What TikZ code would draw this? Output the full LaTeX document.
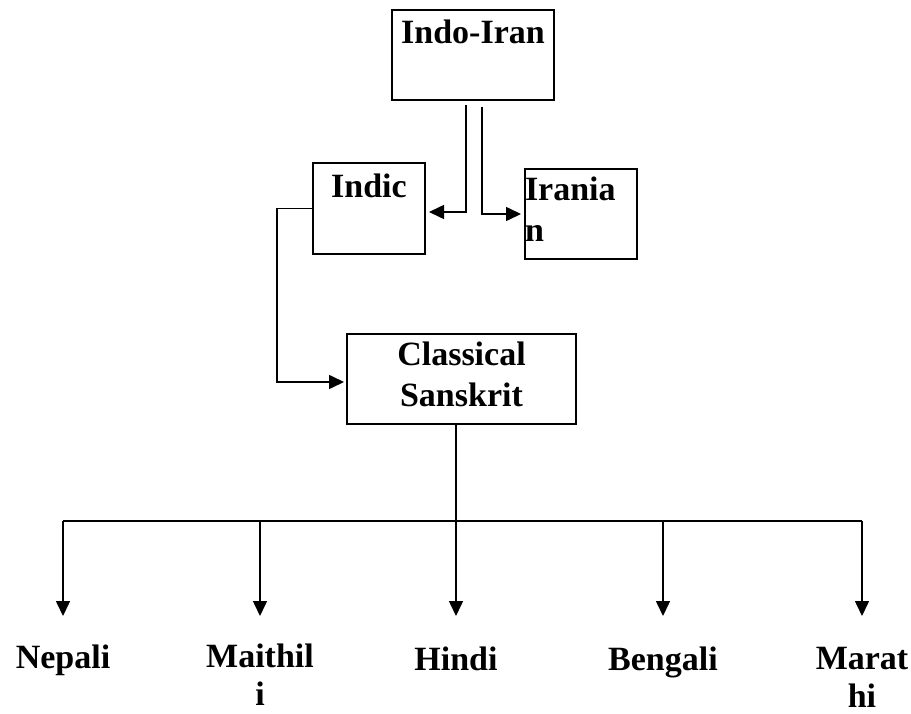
\documentclass[tikz,border=0pt]{standalone}
\usepackage{fontspec}
\setmainfont{Liberation Serif}
\usetikzlibrary{arrows.meta, positioning, calc}

\begin{document}
\begin{tikzpicture}[x=1pt, y=-1pt,
    box/.style={draw, line width=2pt, inner sep=0pt, anchor=north west,
        font=\fontsize{34}{41}\selectfont\bfseries},
    lang/.style={inner sep=0pt, anchor=base, align=center,
        font=\fontsize{34}{38}\selectfont\bfseries},
    link/.style={line width=1.6pt},
    arr/.style={link, -{Triangle[length=15pt, width=14pt]}}]
    \useasboundingbox (0,0) rectangle (911,714);

    % Boxes
    \node[box, text width=162pt, align=center, text height=34pt, text depth=56pt]
        (indoiran) at (391,9) {Indo-Iran};
    \node[box, text width=112pt, align=center, text height=35pt, text depth=56pt]
        (indic) at (312,162) {Indic};
    \node[box, text width=112pt, align=left, text height=32pt, text depth=58pt]
        (iranian) at (524,168) {Irania\\n};
    \node[box, text width=229pt, align=center, text height=32pt, text depth=58pt]
        (classical) at (346,333) {Classical\\Sanskrit};

    % Languages (base = last line)
    \node[lang] (nepali) at (63,668) {Nepali};
    \node[lang] (maithili) at (260,705) {Maithil\\i};
    \node[lang] (hindi) at (456,670) {Hindi};
    \node[lang] (bengali) at (663,670) {Bengali};
    \node[lang] (marathi) at (862,707) {Marat\\hi};

    % Upper links
    \draw[arr] ($(indoiran.south west)+(75,4)$) |- ($(indic.east)+(3,3.5)$);
    \draw[arr] ($(indoiran.south west)+(91,6)$) |- ($(iranian.west)+(-3,0)$);
    \draw[arr] (indic.west) -- ++(-35,0) |- ($(classical.west)+(-2,3)$);

    % Branches
    \coordinate (bar) at (456,521);
    \coordinate (tips) at (456,616);
    \draw[link] (classical.south -| bar) -- (bar);
    \draw[link, line width=2pt] (nepali |- bar) -- (marathi |- bar);
    \foreach \n in {nepali, maithili, hindi, bengali, marathi}
        \draw[arr] (\n |- bar) -- (\n |- tips);
\end{tikzpicture}
\end{document}
